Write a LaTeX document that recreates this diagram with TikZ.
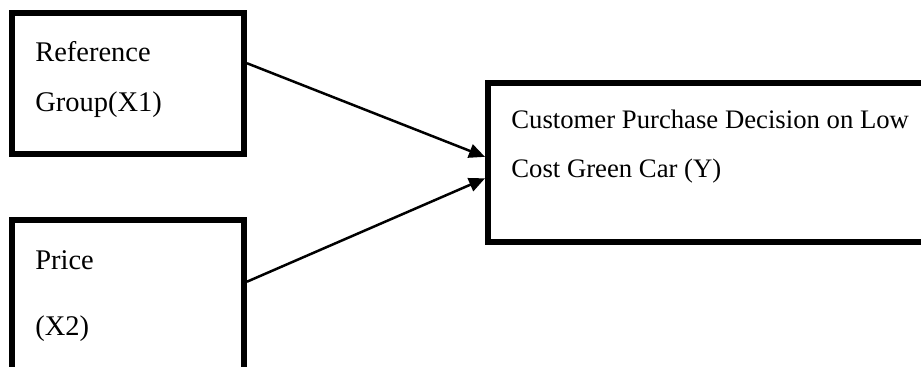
\documentclass[tikz,border=0pt]{standalone}
\usepackage{fontspec}
\setmainfont{Liberation Serif}
\usetikzlibrary{arrows.meta, positioning}

\begin{document}
\begin{tikzpicture}[
    box/.style={draw, line width=0.12cm, minimum width=#1, inner sep=0pt},
    lbl/.style={anchor=base west, inner sep=0pt, font=\fontsize{#1}{18}\selectfont},
    lbl/.default=15.2,
    arrow/.style={-{Triangle[length=0.32cm, width=0.28cm]}, line width=0.05cm}
]
\useasboundingbox (0,0) rectangle (18.42,-7.34);
\clip (0,0) rectangle (18.42,-7.34);

% the two causes and the outcome
\node[box=4.64cm, minimum height=2.83cm] (refgroup) at (2.56,-1.675) {};
\node[box=4.64cm, minimum height=3.2cm] (price) at (2.56,-6.0) {};
\node[box=8.84cm, minimum height=3.19cm] (decision) at (14.18,-3.247) {};

\node[lbl=16.2] (refgroupa) at (0.70,-1.234) {Reference};
\node[lbl=16.2] (refgroupb) at (0.70,-2.234) {Group(X1)};
\node[lbl=16.2] (pricea) at (0.70,-5.40) {Price};
\node[lbl=16.2] (priceb) at (0.70,-6.70) {(X2)};
\node[lbl] (decisiona) at (10.22,-2.58) {Customer Purchase Decision on Low};
\node[lbl] (decisionb) at (10.22,-3.56) {Cost Green Car (Y)};

\draw[arrow] ([yshift=0.41cm]refgroup.east) -- ([yshift=0.11cm]decision.west);
\draw[arrow] ([yshift=0.366cm]price.east) -- ([yshift=-0.32cm]decision.west);
\end{tikzpicture}
\end{document}
